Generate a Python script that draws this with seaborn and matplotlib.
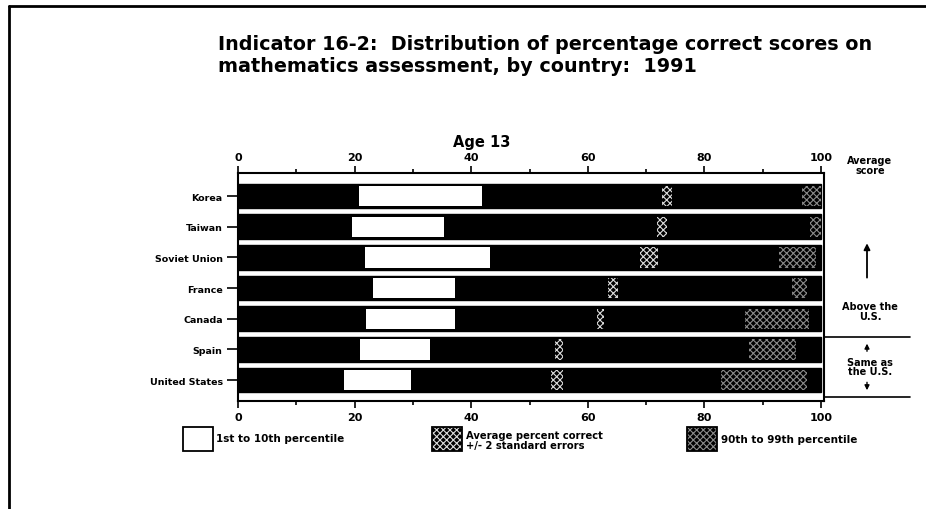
import matplotlib
matplotlib.use("Agg")
import matplotlib.pyplot as plt
import matplotlib.transforms as mtransforms
from matplotlib.patches import Rectangle
from matplotlib.lines import Line2D
import seaborn as sns
import pandas as pd

countries = ["Korea", "Taiwan", "Soviet Union", "France", "Canada", "Spain", "United States"]
full = [100, 100, 100, 100, 100, 100, 100]
p_lo = [20.7, 19.5, 21.7, 23.2, 22.0, 21.0, 18.1]
p_hi = [41.9, 35.4, 43.2, 37.3, 37.3, 33.0, 29.6]
avg_lo = [72.8, 71.8, 68.9, 63.4, 61.5, 54.4, 53.7]
avg_hi = [74.5, 73.5, 72.1, 65.1, 62.7, 55.7, 55.7]
top_lo = [96.8, 98.1, 92.8, 95.0, 87.0, 87.7, 82.9]
top_hi = [100.0, 100.0, 99.1, 97.6, 98.0, 95.7, 97.6]
xticks = [0, 20, 40, 60, 80, 100]

sns.set_theme(style="white")
plt.rcParams["font.family"] = ["DejaVu Sans"]
plt.rcParams["hatch.linewidth"] = 0.8
plt.rcParams["text.color"] = "black"
plt.rcParams["xtick.labelcolor"] = "black"
plt.rcParams["ytick.labelcolor"] = "black"

fig = plt.figure(figsize=(9.26, 5.10), dpi=100)
ax = fig.add_axes([238 / 926, 1 - 402 / 510, (824 - 238) / 926, (402 - 174) / 510])

df = pd.DataFrame({"country": countries, "full": full})
sns.barplot(data=df, x="full", y="country", color="black", saturation=1,
            width=0.8, ax=ax, orient="h")
for p in ax.patches:
    p.set_edgecolor("black")

y = list(range(len(countries)))
ax.barh(y, [h - l for l, h in zip(p_lo, p_hi)], left=p_lo, height=0.66,
        color="white", edgecolor="white", linewidth=0)
ax.barh(y, [h - l for l, h in zip(avg_lo, avg_hi)], left=avg_lo, height=0.66,
        color="black", edgecolor="#dcdcdc", hatch="xxxxx", linewidth=0)
ax.barh(y, [h - l for l, h in zip(top_lo, top_hi)], left=top_lo, height=0.66,
        color="black", edgecolor="#8a8a8a", hatch="xxxxx", linewidth=0)

ax.set_xlim(0, 100.5)
ax.set_ylim(6.68, -0.75)
ax.set_xlabel("")
ax.set_ylabel("")
ax.set_xticks(xticks)
ax.set_xticks([10, 30, 50, 70, 90], minor=True)
ax.tick_params(axis="x", which="both", top=True, bottom=True, labeltop=True,
               labelbottom=True, direction="out", length=5, width=1.2,
               color="black", labelcolor="black", labelsize=8, pad=3)
ax.tick_params(axis="x", which="minor", length=3)
ax.tick_params(axis="y", left=True, direction="out", length=8, width=1.2,
               color="black", labelcolor="black", labelsize=6.8, pad=3)
for lab in ax.get_xticklabels() + ax.get_yticklabels():
    lab.set_fontweight("bold")
for s in ax.spines.values():
    s.set_visible(True)
    s.set_color("black")
    s.set_linewidth(1.5)

# titles
fig.text(218 / 926, 1 - 44 / 510, "Indicator 16-2:  Distribution of percentage correct scores on",
         fontsize=13.8, fontweight="bold", va="center", ha="left")
fig.text(218 / 926, 1 - 67 / 510, "mathematics assessment, by country:  1991",
         fontsize=13.8, fontweight="bold", va="center", ha="left")
fig.text(482 / 926, 1 - 143 / 510, "Age 13", fontsize=10.5, fontweight="bold",
         ha="center", va="center")

# right-side annotations
tr = mtransforms.blended_transform_factory(fig.transFigure, ax.transData)
fig.text(870 / 926, 1 - 166 / 510, "Average\nscore", fontsize=7, fontweight="bold",
         ha="center", va="center", linespacing=0.9)
ax.annotate("", xy=(867 / 926, 1.45), xytext=(867 / 926, 2.75), xycoords=tr,
            textcoords=tr, arrowprops=dict(arrowstyle="-|>", color="black", lw=1.3,
                                           mutation_scale=9), annotation_clip=False)
ax.text(870 / 926, 3.75, "Above the\nU.S.", transform=tr, fontsize=7,
        fontweight="bold", ha="center", va="center", linespacing=0.9)
ax.plot([824 / 926, 910 / 926], [4.6, 4.6], transform=tr, color="black", lw=1.2,
        clip_on=False)
ax.plot([824 / 926, 910 / 926], [6.55, 6.55], transform=tr, color="black", lw=1.2,
        clip_on=False)
ax.text(870 / 926, 5.55, "Same as\nthe U.S.", transform=tr, fontsize=7,
        fontweight="bold", ha="center", va="center", linespacing=0.9)
ax.annotate("", xy=(867 / 926, 4.72), xytext=(867 / 926, 5.15), xycoords=tr,
            textcoords=tr, arrowprops=dict(arrowstyle="-|>", color="black", lw=1.0,
                                           mutation_scale=7), annotation_clip=False)
ax.annotate("", xy=(867 / 926, 6.42), xytext=(867 / 926, 5.98), xycoords=tr,
            textcoords=tr, arrowprops=dict(arrowstyle="-|>", color="black", lw=1.0,
                                           mutation_scale=7), annotation_clip=False)

# legend
def legbox(x0, face, edge, hatch):
    fig.add_artist(Rectangle((x0 / 926, 1 - 452 / 510), 30 / 926, 24 / 510,
                             transform=fig.transFigure, facecolor=face, edgecolor=edge,
                             hatch=hatch, linewidth=0))
    fig.add_artist(Rectangle((x0 / 926, 1 - 452 / 510), 30 / 926, 24 / 510,
                             transform=fig.transFigure, fill=False,
                             edgecolor="black", linewidth=1.3))

legbox(183, "white", "black", None)
fig.text(216 / 926, 1 - 439 / 510, "1st to 10th percentile", fontsize=7.5,
         fontweight="bold", va="center")
legbox(432, "black", "#dcdcdc", "xxxxx")
fig.text(466 / 926, 1 - 441 / 510, "Average percent correct\n+/- 2 standard errors",
         fontsize=7.2, fontweight="bold", va="center", linespacing=1.0)
legbox(687, "black", "#8a8a8a", "xxxxx")
fig.text(721 / 926, 1 - 440 / 510, "90th to 99th percentile", fontsize=7.5,
         fontweight="bold", va="center")

# page frame (left and top edges)
fig.add_artist(Line2D([9 / 926, 9 / 926], [0, 1 - 7 / 510], transform=fig.transFigure,
                      color="black", lw=2))
fig.add_artist(Line2D([9 / 926, 1], [1 - 7 / 510, 1 - 7 / 510], transform=fig.transFigure,
                      color="black", lw=2))

fig.savefig("out.png", dpi=100, facecolor="white")
